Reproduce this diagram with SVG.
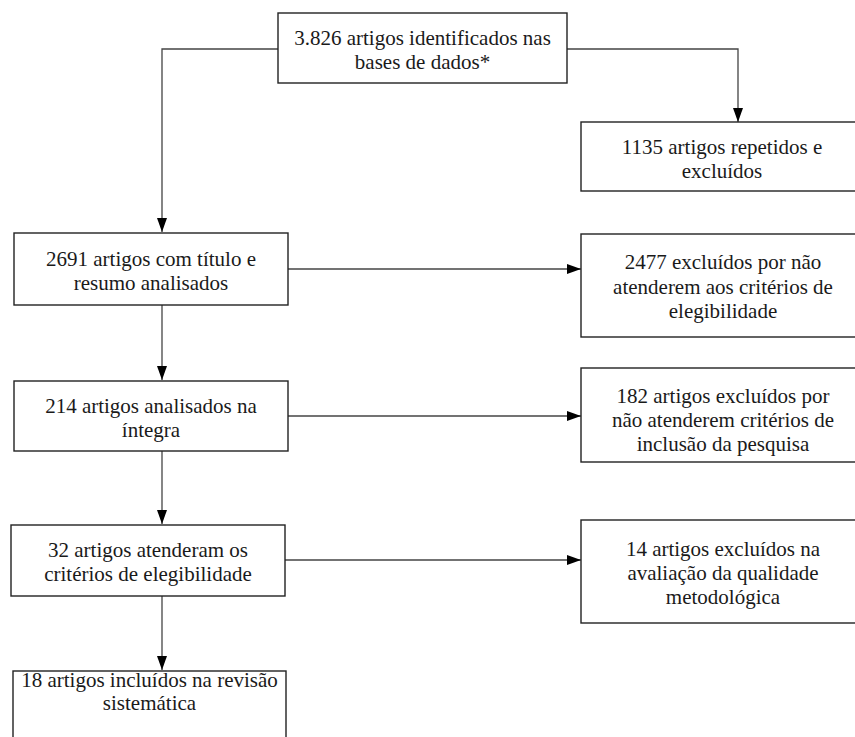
<svg xmlns="http://www.w3.org/2000/svg" width="855" height="737" viewBox="0 0 855 737">
<style>
.box{fill:#fff;stroke:#222;stroke-width:1.4}
.t{font-family:"Liberation Serif","Times New Roman",serif;font-size:21px;fill:#1a1a1a;text-anchor:middle}
.c{fill:none;stroke:#444;stroke-width:1.3}
</style>
<defs>
<marker id="ah" markerWidth="14" markerHeight="10" refX="14" refY="5" viewBox="0 0 14 10" orient="auto" markerUnits="userSpaceOnUse">
<path d="M0,0 L14,5 L0,10 Z" fill="#000"/>
</marker>
</defs>
<rect width="855" height="737" fill="#fff"/>
<g id="connectors">
<path class="c" d="M278,49 H162 V232" marker-end="url(#ah)"/>
<path class="c" d="M567,49 H738 V122" marker-end="url(#ah)"/>
<path class="c" d="M288,269 H581" marker-end="url(#ah)"/>
<path class="c" d="M162,305 V380" marker-end="url(#ah)"/>
<path class="c" d="M288,416 H581" marker-end="url(#ah)"/>
<path class="c" d="M162,451 V524" marker-end="url(#ah)"/>
<path class="c" d="M285,560 H581" marker-end="url(#ah)"/>
<path class="c" d="M162,596 V670" marker-end="url(#ah)"/>
</g>
<g id="n1">
<rect class="box" x="278" y="13" width="289" height="70"/>
<text class="t" x="422.5" y="45">3.826 artigos identificados nas</text>
<text class="t" x="422.5" y="69">bases de dados*</text>
</g>
<g id="n2">
<rect class="box" x="581" y="122" width="290" height="69"/>
<text class="t" x="722" y="154">1135 artigos repetidos e</text>
<text class="t" x="722" y="178">excluídos</text>
</g>
<g id="n3">
<rect class="box" x="14" y="233" width="274" height="72"/>
<text class="t" x="151" y="266">2691 artigos com título e</text>
<text class="t" x="151" y="290">resumo analisados</text>
</g>
<g id="n4">
<rect class="box" x="581" y="234" width="290" height="103"/>
<text class="t" x="723" y="269">2477 excluídos por não</text>
<text class="t" x="723" y="294">atenderem aos critérios de</text>
<text class="t" x="723" y="318">elegibilidade</text>
</g>
<g id="n5">
<rect class="box" x="14" y="381" width="274" height="70"/>
<text class="t" x="151" y="413">214 artigos analisados na</text>
<text class="t" x="151" y="437">íntegra</text>
</g>
<g id="n6">
<rect class="box" x="581" y="368" width="290" height="94"/>
<text class="t" x="723" y="403">182 artigos excluídos por</text>
<text class="t" x="723" y="427">não atenderem critérios de</text>
<text class="t" x="723" y="451">inclusão da pesquisa</text>
</g>
<g id="n7">
<rect class="box" x="11" y="525" width="274" height="71"/>
<text class="t" x="148" y="557">32 artigos atenderam os</text>
<text class="t" x="148" y="581">critérios de elegibilidade</text>
</g>
<g id="n8">
<rect class="box" x="581" y="520" width="290" height="103"/>
<text class="t" x="723" y="556">14 artigos excluídos na</text>
<text class="t" x="723" y="580">avaliação da qualidade</text>
<text class="t" x="723" y="604">metodológica</text>
</g>
<g id="n9">
<rect class="box" x="13" y="671" width="273" height="90"/>
<text class="t" x="149.5" y="687">18 artigos incluídos na revisão</text>
<text class="t" x="149.5" y="710">sistemática</text>
</g>
</svg>
